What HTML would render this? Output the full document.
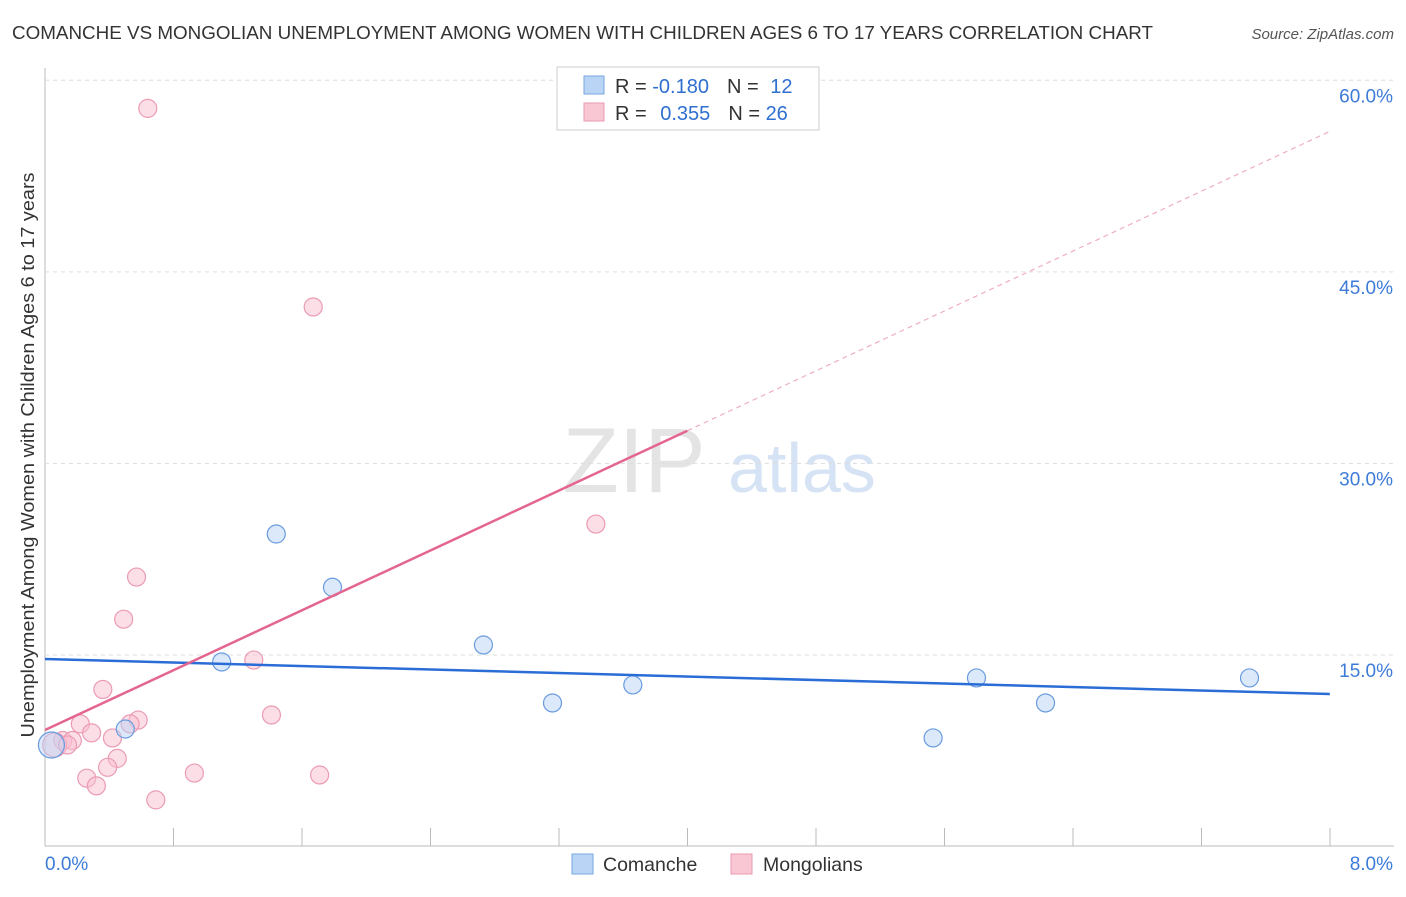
<!DOCTYPE html>
<html><head><meta charset="utf-8"><style>
body{margin:0;background:#fff;font-family:"Liberation Sans",sans-serif}
svg text{font-family:"Liberation Sans",sans-serif}
</style></head><body>
<svg id="c" width="1406" height="892">
<text x="12" y="39" font-size="18" fill="#333" textLength="1141" lengthAdjust="spacingAndGlyphs">COMANCHE VS MONGOLIAN UNEMPLOYMENT AMONG WOMEN WITH CHILDREN AGES 6 TO 17 YEARS CORRELATION CHART</text>
<text x="1394" y="39" font-size="15" fill="#555" font-style="italic" text-anchor="end">Source: ZipAtlas.com</text>
<text x="634" y="492" font-size="92" fill="#e4e4e4" font-family="Liberation Serif" text-anchor="middle">ZIP</text>
<text x="802" y="492" font-size="70" fill="#d5e3f5" text-anchor="middle">atlas</text>
<text transform="translate(34,455) rotate(-90)" font-size="18" fill="#333" text-anchor="middle" textLength="565" lengthAdjust="spacingAndGlyphs">Unemployment Among Women with Children Ages 6 to 17 years</text>
<g id="grid"></g><g id="marks"></g>
<g>
<rect x="557" y="67" width="262" height="63" fill="#fff" stroke="#ccc"/>
<rect x="584" y="76" width="20" height="18" fill="#b9d4f5" stroke="#7aa7e0"/>
<rect x="584" y="103" width="20" height="18" fill="#f9c6d4" stroke="#ea9ab2"/>
<text x="615" y="93" font-size="20" fill="#333">R = <tspan fill="#2f6fd0">-0.180</tspan><tspan dx="18">N = </tspan><tspan fill="#2f6fd0" dx="6">12</tspan></text>
<text x="615" y="120" font-size="20" fill="#333">R = <tspan fill="#2f6fd0" dx="8">0.355</tspan><tspan dx="18">N = </tspan><tspan fill="#2f6fd0">26</tspan></text>
</g>
<g>
<rect x="572" y="854" width="21" height="20" fill="#b9d4f5" stroke="#7aa7e0"/>
<text x="603" y="871" font-size="19.5" fill="#333">Comanche</text>
<rect x="731" y="854" width="21" height="20" fill="#f9c6d4" stroke="#ea9ab2"/>
<text x="763" y="871" font-size="19.5" fill="#333">Mongolians</text>
</g>
</svg>
<script>
const yTicks=[15,30,45,60];
const xTickLabels=["0.0%","8.0%"];
const comX=[0.04,0.50,1.10,1.44,1.79,2.73,3.16,3.66,5.53,5.80,6.23,7.50];
const comY=[7.95,9.2,14.45,24.47,20.3,15.78,11.24,12.65,8.5,13.2,11.24,13.2];
const monX=[0.64,1.67,3.43,0.57,0.49,1.30,0.36,1.41,0.58,0.22,0.53,0.29,0.42,0.11,0.17,0.06,0.45,0.39,0.93,1.71,0.26,0.32,0.69,0.14];
const monY=[57.8,42.25,25.25,21.1,17.8,14.6,12.3,10.3,9.9,9.6,9.6,8.9,8.5,8.3,8.3,7.95,6.9,6.2,5.75,5.6,5.35,4.75,3.65,7.95];
const comLine=[14.68,11.94];
const monLine=[9.12,56.0];
const sx=v=>45+v*160.6, sy=v=>846.5-v*12.77;
const NS="http://www.w3.org/2000/svg";
function mk(t,a,p){const e=document.createElementNS(NS,t);for(const k in a)e.setAttribute(k,a[k]);p.appendChild(e);return e;}
const g=document.getElementById('grid'),m=document.getElementById('marks');
let ax=mk('line',{x1:45,y1:68,x2:45,y2:846,stroke:'#bbb'},g);


let bx=mk('line',{x1:45,y1:846,x2:1394,y2:846,stroke:'#bbb'},g);


for(let i=1;i<=10;i++){let t=mk('line',{x1:45+i*128.5,y1:828,x2:45+i*128.5,y2:846,stroke:'#bbb'},g);

}
yTicks.forEach(v=>{let l=mk('line',{x1:45,x2:1394,y1:sy(v),y2:sy(v),stroke:'#ddd','stroke-dasharray':'4,4'},g);


let t=mk('text',{x:1393,y:sy(v)+22,'text-anchor':'end','font-size':19,fill:'#3d7bd9'},g);t.textContent=v.toFixed(1)+'%';

});
xTickLabels.forEach((s,i)=>{let t=mk('text',{x:i?1393:45,y:870,'text-anchor':i?'end':'start','font-size':19,fill:'#3d7bd9'},g);t.textContent=s;

});
monX.forEach((x,i)=>{let c=mk('circle',{cx:sx(x),cy:sy(monY[i]),r:i==15?12:9,fill:'rgba(249,190,207,0.5)',stroke:'#eb9bb4','stroke-width':1.2},m);

});
comX.forEach((x,i)=>{let c=mk('circle',{cx:sx(x),cy:sy(comY[i]),r:i==0?13:9,fill:'rgba(185,212,245,0.5)',stroke:'#6a9be0','stroke-width':1.2},m);

});
let l1=mk('line',{x1:sx(0),y1:sy(comLine[0]),x2:sx(8),y2:sy(comLine[1]),stroke:'#2a6dd6','stroke-width':2.5},m);


const mAt=x=>monLine[0]+(monLine[1]-monLine[0])*x/8;
let l2=mk('line',{x1:sx(0),y1:sy(mAt(0)),x2:sx(4),y2:sy(mAt(4)),stroke:'#e36590','stroke-width':2.5},m);


let l3=mk('line',{x1:sx(4),y1:sy(mAt(4)),x2:sx(8),y2:sy(mAt(8)),stroke:'#eeaec3','stroke-width':1.2,'stroke-dasharray':'5,4'},m);


</script>
</body></html>
